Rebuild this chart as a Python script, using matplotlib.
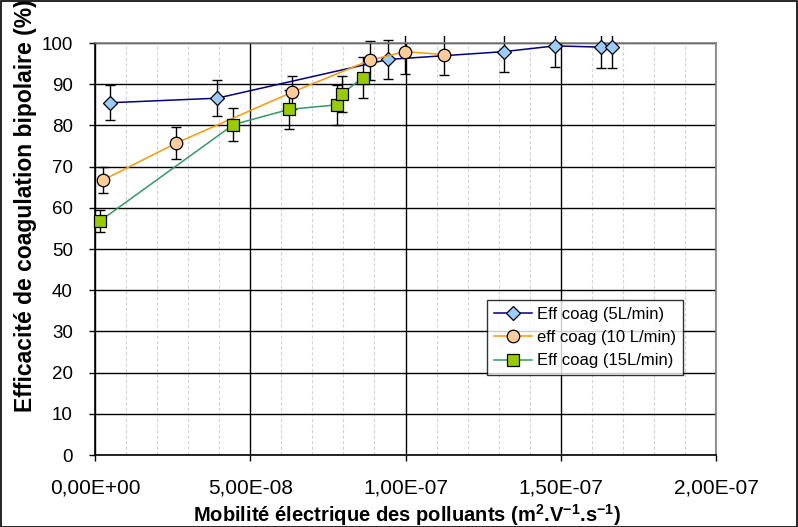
import matplotlib
matplotlib.use("Agg")
import matplotlib.pyplot as plt
from matplotlib.ticker import MultipleLocator, FuncFormatter
from matplotlib.patches import Rectangle

plt.rcParams['font.family'] = ['Liberation Sans', 'DejaVu Sans']
plt.rcParams['mathtext.fontset'] = 'custom'
plt.rcParams['mathtext.rm'] = 'Liberation Sans'
plt.rcParams['mathtext.bf'] = 'Liberation Sans:bold'

# Data (x in m2/V/s, y in %)
x5 = [4.8e-9, 39.3e-9, 94.4e-9, 131.6e-9, 148.1e-9, 162.9e-9, 166.5e-9]
y5 = [85.5, 86.6, 96.0, 97.9, 99.3, 99.0, 99.0]
e5 = [4.2, 4.3, 4.8, 5.0, 5.1, 5.1, 5.1]

x10 = [2.5e-9, 26.1e-9, 63.6e-9, 88.5e-9, 99.8e-9, 112.4e-9]
y10 = [66.7, 75.7, 88.1, 95.8, 97.9, 97.2]
e10 = [3.2, 3.8, 4.0, 4.8, 5.5, 4.9]

x15 = [1.6e-9, 44.6e-9, 62.6e-9, 78.0e-9, 79.5e-9, 86.2e-9]
y15 = [56.8, 80.2, 83.9, 85.0, 87.6, 91.6]
e15 = [2.6, 4.1, 4.7, 4.8, 4.4, 5.0]

labels = ['Eff coag (5L/min)', 'eff coag (10 L/min)', 'Eff coag (15L/min)']

fig = plt.figure(figsize=(7.98, 5.27), dpi=100)
ax = fig.add_axes([95/798, 1 - 455/527, 621/798, 412/527])

ax.set_xlim(0, 2e-7)
ax.set_ylim(0, 100)
ax.xaxis.set_major_locator(MultipleLocator(5e-8))
ax.xaxis.set_minor_locator(MultipleLocator(1e-8))
ax.yaxis.set_major_locator(MultipleLocator(10))

def fmt(v, pos):
    s = "%.2E" % v
    return s.replace('.', ',')
ax.xaxis.set_major_formatter(FuncFormatter(fmt))

ax.grid(True, which='minor', axis='x', color='#d4d4d4', linestyle=(0, (3, 2)), linewidth=0.8)
ax.grid(True, which='major', axis='x', color='black', linewidth=1.0)
ax.grid(True, which='major', axis='y', color='black', linewidth=1.0)
ax.set_axisbelow(True)

for s in ax.spines.values():
    s.set_color('#808080')
    s.set_linewidth(1.2)
ax.spines['left'].set_color('black')
ax.spines['bottom'].set_color('black')

ax.tick_params(axis='both', which='major', direction='out', length=4, width=1,
               colors='black')
ax.tick_params(axis='x', which='major', labelsize=15, pad=13)
ax.tick_params(axis='y', which='major', labelsize=13.5, pad=12)
ax.tick_params(axis='x', which='minor', length=0)

clip_rect = Rectangle((0, 0), 1, 1 + 7 / 412, transform=ax.transAxes,
                      fill=False, visible=False)
ax.add_patch(clip_rect)

series = [
    (x5, y5, e5, 'D', '#99CCFF', '#000080', 7.5, labels[0]),
    (x10, y10, e10, 'o', '#FFCC99', '#FF9900', 9, labels[1]),
    (x15, y15, e15, 's', '#99CC00', '#339966', 8.5, labels[2]),
]
for xs, ys, es, mk, fc, lc, ms, lab in series:
    cont = ax.errorbar(xs, ys, yerr=es, fmt='none', ecolor='black', elinewidth=1,
                       capsize=3.5, capthick=1, zorder=2)
    for art in list(cont.lines[1]) + list(cont.lines[2]):
        art.set_clip_path(clip_rect)
    ax.plot(xs, ys, color=lc, linewidth=1.1, marker=mk, markersize=ms,
            markerfacecolor=fc, markeredgecolor='black', markeredgewidth=0.9,
            label=lab, zorder=3, clip_on=False)

leg = ax.legend(loc='upper left', bbox_to_anchor=((487 - 95) / 621, (455 - 300) / 412),
                fontsize=12, frameon=True, fancybox=False, edgecolor='black',
                borderpad=0.4, labelspacing=0.5, handlelength=2.3,
                handletextpad=0.3, borderaxespad=0)
leg.get_frame().set_linewidth(1.0)

fig.text(407 / 798, 1 - 515 / 527,
         r'Mobilité électrique des polluants (m$^{\mathbf{2}}$.V$^{\mathbf{-1}}$.s$^{\mathbf{-1}}$)',
         ha='center', va='center', fontsize=14.5, fontweight='bold')
fig.text(25.5 / 798, 1 - 412 / 527, 'Efficacité de coagulation bipolaire (%)',
         ha='center', va='bottom', rotation=90, fontsize=16.5, fontweight='bold')

fig.patches.append(Rectangle((0.5 / 798, 0.5 / 527), 1 - 1.5 / 798, 1 - 1.5 / 527,
                             transform=fig.transFigure, fill=False,
                             edgecolor='black', linewidth=1.2))

fig.savefig('out.png', dpi=100)
